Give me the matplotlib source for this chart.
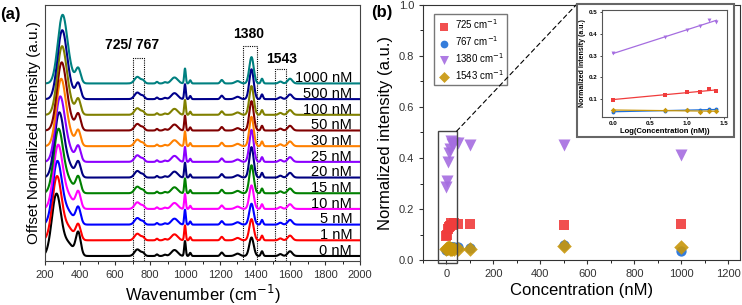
import numpy as np
import matplotlib
matplotlib.use("Agg")
import matplotlib.pyplot as plt
from matplotlib.patches import Rectangle, ConnectionPatch

plt.rcParams['font.family'] = ['Liberation Sans', 'DejaVu Sans']

# ---- panel (a): spectra ----
labels = ['0 nM', '1 nM', '5 nM', '10 nM', '15 nM', '20 nM', '25 nM',
          '30 nM', '50 nM', '100 nM', '500 nM', '1000 nM']
trace_colors = ['black', '#ff0000', '#0000ff', '#ff00ff', '#008000', '#000080',
                '#8b00ff', '#ff8000', '#800000', '#808000', '#00008b', '#008080']
# first band (centre cm-1, height), 390 band height, 1380 band height (offset units)
main_pos = [265, 268, 270, 274, 276, 280, 285, 290, 293, 295, 296, 298]
main_h = [3.9, 4.0, 3.95, 3.95, 3.95, 3.95, 3.9, 3.95, 3.95, 3.95, 3.95, 3.9]
h390 = [1.45, 0.95, 1.05, 1.05, 1.0, 0.95, 0.95, 0.95, 1.0, 0.95, 0.95, 0.9]
h1380 = [1.18, 1.35, 1.33, 1.5, 1.78, 1.94, 2.04, 1.87, 1.87, 1.83, 1.9, 1.68]
# shared bands: centre, height, width
band_pos = [330, 390, 728, 760, 840, 885, 940, 1000, 1030, 1210, 1300, 1440, 1545, 1600]
band_h = [0.8, 0.0, 0.42, 0.18, 0.1, 0.08, 0.38, 0.95, 0.2, 0.22, 0.15, 0.3, 0.12, 0.3]
band_w = [30, 14, 16, 10, 6, 8, 18, 4.5, 5, 8, 14, 6, 10, 13]

# ---- panel (b): normalized intensities ----
conc = [0, 1, 5, 10, 15, 20, 25, 30, 50, 100, 500, 1000]
i725 = [0.095, 0.097, 0.12, 0.13, 0.132, 0.145, 0.138, 0.145, 0.143, 0.143, 0.137, 0.14]
i767 = [0.04, 0.042, 0.045, 0.048, 0.05, 0.052, 0.052, 0.05, 0.05, 0.048, 0.06, 0.037]
i1380 = [0.285, 0.31, 0.385, 0.418, 0.435, 0.465, 0.455, 0.46, 0.458, 0.45, 0.45, 0.41]
i1543 = [0.045, 0.048, 0.047, 0.05, 0.042, 0.043, 0.043, 0.045, 0.045, 0.045, 0.053, 0.05]
series_names = ['725 cm$^{-1}$', '767 cm$^{-1}$', '1380 cm$^{-1}$', '1543 cm$^{-1}$']
series_colors = ['#f03c3c', '#1f6fd8', '#a56de0', '#c8960a']
series_markers = ['s', 'o', 'v', 'D']

fig = plt.figure(figsize=(7.42, 3.05), dpi=100)

# ---------------- (a) ----------------
ax1 = fig.add_axes([45 / 742, 1 - 261 / 305, 315 / 742, 256 / 305])
x = np.linspace(200, 2000, 1801)


def gauss(c, h, w):
    return h * np.exp(-(x - c) ** 2 / (2 * w ** 2))


for i in range(len(labels)):
    y = gauss(main_pos[i], main_h[i], 26) + gauss(1380, h1380[i], 12.5)
    for c, h, w in zip(band_pos, band_h, band_w):
        if c == 390:
            h = h390[i]
        y = y + gauss(c, h, w)
    ax1.plot(x, y + i, color=trace_colors[i], lw=1.5)
    ax1.text(1955, i + 0.33, labels[i], ha='right', va='center', fontsize=10.5)

ax1.set_xlim(200, 2000)
ax1.set_ylim(-0.32, 16.0)
ax1.set_xticks(range(200, 2001, 200))
ax1.set_xticks(range(300, 2000, 200), minor=True)
ax1.set_yticks([])
ax1.tick_params(axis='x', labelsize=8, colors='#333333', direction='out', length=3)
ax1.tick_params(axis='x', which='minor', length=2)
ax1.set_xlabel('Wavenumber (cm$^{-1}$)', fontsize=12, labelpad=2)
ax1.set_ylabel('Offset Normalized Intensity (a.u.)', fontsize=11, labelpad=3)
for s in ax1.spines.values():
    s.set_color('#444444')

# dotted boxes around the bands of interest
box_x = [(703, 766), (1331, 1409), (1514, 1577)]
box_top = [12.65, 13.36, 11.94]
box_text = ['725/ 767', '1380', '1543']
text_x = [697, 1366, 1554]
text_y = [13.42, 14.13, 12.58]
for (a, b), t, s, tx, ty in zip(box_x, box_top, box_text, text_x, text_y):
    ax1.add_patch(Rectangle((a, -0.32), b - a, t + 0.32, fill=False,
                            ls=(0, (1, 1)), lw=0.8, ec='black'))
    ax1.text(tx, ty, s, ha='center', va='center', fontsize=10, fontweight='bold')

fig.text(10 / 742, 1 - 14 / 305, '(a)', fontsize=12, fontweight='bold',
         ha='center', va='center')

# ---------------- (b) ----------------
ax2 = fig.add_axes([423 / 742, 1 - 260 / 305, 317 / 742, 255 / 305])
for vals, name, col, mk in zip([i725, i767, i1380, i1543], series_names,
                               series_colors, series_markers):
    ax2.scatter(conc, vals, s=55 if mk != 'v' else 75, marker=mk, color=col,
                alpha=0.9, lw=0, label=name, zorder=3)
ax2.set_xlim(-100, 1250)
ax2.set_ylim(0, 1.0)
ax2.set_xticks(range(0, 1201, 200))
ax2.set_xticks(range(-100, 1250, 100), minor=True)
ax2.set_yticks(np.arange(0, 1.01, 0.2))
ax2.set_yticks(np.arange(0.1, 1.0, 0.2), minor=True)
ax2.yaxis.set_major_formatter(matplotlib.ticker.FormatStrFormatter('%.1f'))
ax2.tick_params(labelsize=8, colors='#333333', direction='out', length=3)
ax2.tick_params(which='minor', length=2)
ax2.set_xlabel('Concentration (nM)', fontsize=12, labelpad=3)
ax2.set_ylabel('Normalized intensity (a.u.)', fontsize=12, labelpad=4)
for s in ax2.spines.values():
    s.set_color('#333333')
leg = ax2.legend(loc='upper left', bbox_to_anchor=(0.02, 0.985), fontsize=7,
                 frameon=True, fancybox=False, edgecolor='#555555',
                 handletextpad=0.5, handlelength=1.2, borderpad=0.4,
                 labelspacing=0.3, markerscale=0.75)

# zoom rectangle and connectors
ax2.add_patch(Rectangle((-35, -0.01), 78, 0.515, fill=False, ec='#444444',
                        lw=1.0, zorder=4, clip_on=False))
frame_l, frame_b, frame_r, frame_t = 577 / 742, 1 - 137 / 305, 734 / 742, 1 - 4 / 305
for ya, yb in [(0.505, frame_t), (-0.01, frame_b)]:
    con = ConnectionPatch(xyA=(43, ya), coordsA='data', axesA=ax2,
                          xyB=(frame_l, yb), coordsB='figure fraction',
                          ls=(0, (4, 3)), lw=0.8, color='black')
    fig.add_artist(con)
fig.add_artist(Rectangle((frame_l, frame_b), frame_r - frame_l, frame_t - frame_b,
                         transform=fig.transFigure, fill=True, fc='white',
                         ec='#666666', lw=1.5, zorder=5))

fig.text(382 / 742, 1 - 13 / 305, '(b)', fontsize=12, fontweight='bold',
         ha='center', va='center')

# inset: log-scale trend for 1-25 nM
ax3 = fig.add_axes([602 / 742, 1 - 117 / 305, 125 / 742, 107 / 305], zorder=6)
logc = np.log10(conc[1:7])
for vals, col, mk in zip([i725, i767, i1380, i1543], series_colors, series_markers):
    v = np.array(vals[1:7])
    ax3.plot(logc, v, ls='none', marker=mk, color=col, ms=2.8, mew=0)
    k, b = np.polyfit(logc, v, 1)
    ax3.plot(logc[[0, -1]], k * logc[[0, -1]] + b, color=col, lw=0.9)
ax3.set_xlim(-0.15, 1.54)
ax3.set_ylim(0.017, 0.51)
ax3.set_xticks([0, 0.5, 1.0, 1.5])
ax3.set_yticks([0.1, 0.2, 0.3, 0.4, 0.5])
ax3.tick_params(labelsize=4.5, length=1.5, width=0.5, pad=1.5)
for lab in ax3.get_xticklabels() + ax3.get_yticklabels():
    lab.set_fontweight('bold')
ax3.set_xlabel('Log(Concentration (nM))', fontsize=5.5, fontweight='bold', labelpad=1)
ax3.set_ylabel('Normalized intensity (a.u.)', fontsize=5, fontweight='bold', labelpad=2)
for s in ax3.spines.values():
    s.set_color('#555555')
    s.set_linewidth(0.8)

fig.savefig('out.png', dpi=100)
